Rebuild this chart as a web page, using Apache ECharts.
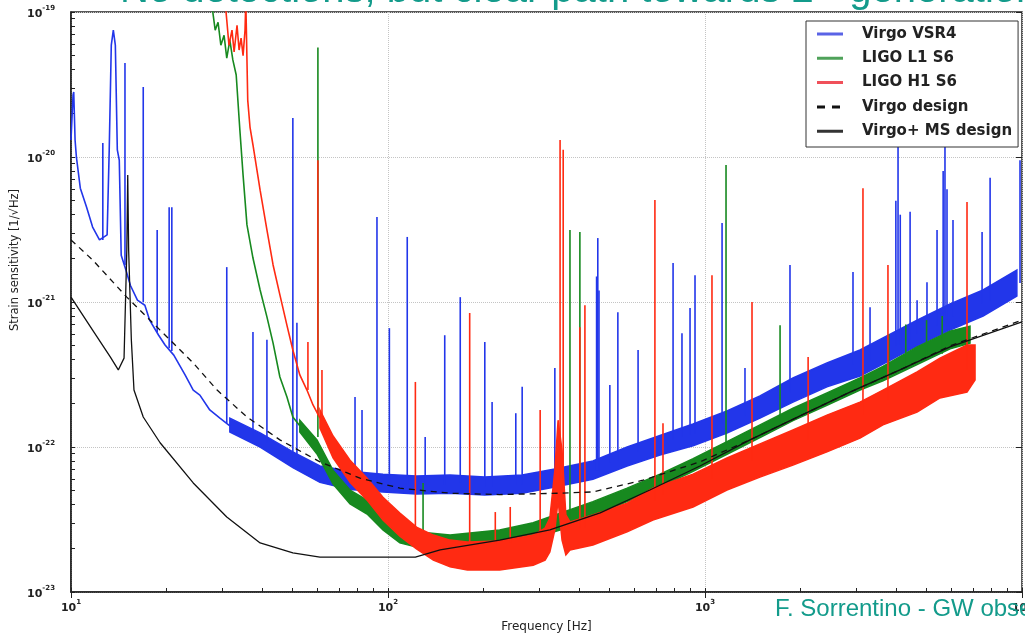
<!DOCTYPE html>
<html>
<head>
<meta charset="utf-8">
<script src="https://cdn.jsdelivr.net/npm/echarts@6/dist/echarts.min.js"></script>
<style>
html,body{margin:0;padding:0;background:#fff;}
#chart{width:1025px;height:633px;}
</style>
</head>
<body>
<div id="chart"></div>
<script>
// names, in legend order
var seriesNames = ['Virgo VSR4', 'LIGO L1 S6', 'LIGO H1 S6', 'Virgo design', 'Virgo+ MS design'];
var xTickValues = [10, 100, 1000, 10000];
var yTickValues = [1e-23, 1e-22, 1e-21, 1e-20, 1e-19];

// ---- Virgo VSR4 (blue) ----
// low frequency trace [Hz, strain]
var virgoLow = [
  [10, 1.31e-20], [10.15, 2.68e-20], [10.2, 2.81e-20], [10.3, 1.31e-20], [10.4, 1.0e-20],
  [10.7, 6.1e-21], [11.2, 4.5e-21], [11.7, 3.29e-21], [12.3, 2.68e-21], [13.0, 2.9e-21],
  [13.2, 1.12e-20], [13.4, 5.9e-20], [13.6, 7.5e-20], [13.8, 5.9e-20], [14.0, 1.12e-20],
  [14.2, 9.5e-21], [14.4, 2.1e-21], [14.9, 1.66e-21], [15.4, 1.3e-21], [16.2, 1.03e-21],
  [17.1, 9.5e-22], [17.7, 7.5e-22], [18.9, 5.9e-22], [19.8, 5.05e-22], [21.1, 4.3e-22],
  [22.9, 3.14e-22], [24.3, 2.47e-22], [25.5, 2.28e-22], [27.4, 1.8e-22], [29.5, 1.58e-22],
  [31.7, 1.4e-22]
];
// noise band [Hz, lower, upper]
var virgoBand = [
  [31.7, 1.27e-22, 1.58e-22], [39.5, 1.0e-22, 1.25e-22], [50.1, 7.2e-23, 9.25e-23],
  [61, 5.7e-23, 7.4e-23], [75.9, 5.1e-23, 6.8e-23], [96.4, 4.9e-23, 6.5e-23],
  [123, 4.75e-23, 6.3e-23], [157, 4.8e-23, 6.4e-23], [202, 4.67e-23, 6.2e-23],
  [265, 4.8e-23, 6.4e-23], [336, 5.3e-23, 7.05e-23], [443, 6.0e-23, 8.0e-23],
  [568, 7.4e-23, 1.0e-22], [721, 8.8e-23, 1.2e-22], [917, 1.02e-22, 1.44e-22],
  [1173, 1.25e-22, 1.77e-22], [1491, 1.58e-22, 2.25e-22], [1895, 2.04e-22, 2.99e-22],
  [2425, 2.6e-22, 3.8e-22], [3083, 3.09e-22, 4.67e-22], [3643, 3.73e-22, 5.65e-22],
  [4667, 4.98e-22, 7.5e-22], [5930, 6.4e-22, 9.7e-22], [7537, 8.0e-22, 1.21e-21],
  [9634, 1.1e-21, 1.66e-21]
];
// lines [Hz, base, peak]
var virgoLines = [
  [12.6, 2.68e-21, 1.25e-20], [14.8, 1.8e-21, 4.45e-20], [16.9, 1.0e-21, 3.04e-20],
  [18.7, 6.2e-22, 3.14e-21], [20.4, 4.8e-22, 4.5e-21], [20.8, 4.6e-22, 4.5e-21],
  [31.0, 1.46e-22, 1.74e-21], [37.5, 1.17e-22, 6.2e-22], [41.5, 1.07e-22, 5.5e-22],
  [50.1, 8.1e-23, 1.86e-20], [51.6, 7.9e-23, 7.2e-22], [78.7, 5.9e-23, 2.21e-22],
  [82.8, 5.9e-23, 1.8e-22], [92.3, 5.65e-23, 3.86e-21], [101, 5.65e-23, 6.6e-22],
  [115, 5.5e-23, 2.81e-21], [131, 5.5e-23, 1.17e-22], [151, 5.5e-23, 5.9e-22],
  [169, 5.65e-23, 1.08e-21], [202, 5.3e-23, 5.3e-22], [213, 5.3e-23, 2.04e-22],
  [253, 5.5e-23, 1.71e-22], [265, 5.5e-23, 2.6e-22], [336, 6.2e-23, 3.5e-22],
  [455, 6.9e-23, 1.5e-21], [459, 6.9e-23, 2.76e-21], [463, 6.9e-23, 1.2e-21],
  [501, 7.8e-23, 2.68e-22], [531, 8.1e-23, 8.5e-22], [615, 9.25e-23, 4.67e-22],
  [793, 1.12e-22, 1.86e-21], [846, 1.17e-22, 6.1e-22], [897, 1.21e-22, 9.1e-22],
  [930, 1.24e-22, 1.53e-21], [1132, 1.46e-22, 3.51e-21], [1337, 1.64e-22, 3.5e-22],
  [1854, 2.39e-22, 1.8e-21], [2930, 3.7e-22, 1.61e-21], [3316, 4.0e-22, 9.2e-22],
  [4000, 5.0e-22, 5.0e-21], [4064, 5.05e-22, 1.42e-20], [4130, 5.1e-22, 4.0e-21],
  [4436, 5.5e-22, 4.2e-21], [4667, 6.1e-22, 1.03e-21], [5015, 6.4e-22, 1.37e-21],
  [5395, 6.9e-22, 3.14e-21], [5640, 7.4e-22, 8.0e-21], [5715, 7.5e-22, 2.68e-20],
  [5800, 7.6e-22, 6.0e-21], [6058, 7.9e-22, 3.68e-21], [7483, 9.8e-22, 3.04e-21],
  [7932, 1.03e-21, 7.2e-21], [9856, 1.35e-21, 9.5e-21]
];

// ---- LIGO L1 S6 (green) ----
var ligoL1Low = [
  [27.7, 1.2e-19], [28.5, 7.5e-20], [29.1, 8.5e-20], [29.7, 5.9e-20], [30.4, 6.9e-20],
  [31.0, 4.8e-20], [31.7, 6.4e-20], [32.4, 4.67e-20], [33.2, 3.68e-20], [34.1, 1.53e-20],
  [34.9, 7.5e-21], [35.9, 3.4e-21], [37.5, 2.01e-21], [39.5, 1.21e-21], [41.5, 7.9e-22],
  [43.4, 5.2e-22], [45.6, 3.04e-22], [48.0, 2.21e-22], [50.1, 1.61e-22], [52.7, 1.4e-22]
];
var ligoL1Band = [
  [52.7, 1.27e-22, 1.53e-22], [59.7, 8.95e-23, 1.12e-22], [67.1, 5.56e-23, 6.9e-23],
  [75.9, 4.05e-23, 5.05e-23], [85.9, 3.45e-23, 4.3e-23], [96.4, 2.68e-23, 3.34e-23],
  [109, 2.18e-23, 2.76e-23], [123, 2.04e-23, 2.6e-23], [157, 1.95e-23, 2.47e-23],
  [225, 2.11e-23, 2.68e-23], [287, 2.36e-23, 3.0e-23], [349, 2.68e-23, 3.5e-23],
  [443, 3.3e-23, 4.2e-23], [568, 4.2e-23, 5.2e-23], [721, 5.3e-23, 6.5e-23],
  [917, 6.8e-23, 8.3e-23], [1173, 8.9e-23, 1.09e-22], [1491, 1.16e-22, 1.42e-22],
  [1895, 1.52e-22, 1.85e-22], [2425, 1.94e-22, 2.36e-22], [3083, 2.47e-22, 3.0e-22],
  [3643, 2.86e-22, 3.6e-22], [4667, 3.7e-22, 4.9e-22], [5930, 4.75e-22, 6.3e-22],
  [6855, 5.2e-22, 6.8e-22]
];
var ligoL1Lines = [
  [60.1, 1.17e-22, 5.7e-20], [129, 2.4e-23, 5.65e-23], [375, 3.14e-23, 3.14e-21],
  [403, 3.3e-23, 3.04e-21], [1165, 1.03e-22, 8.8e-21], [1725, 1.42e-22, 6.9e-22],
  [3800, 3.0e-22, 6.0e-22], [4300, 3.4e-22, 7.0e-22], [5000, 4.0e-22, 7.5e-22],
  [5600, 4.4e-22, 8.0e-22]
];

// ---- LIGO H1 S6 (red) ----
var ligoH1Low = [
  [30.6, 1.2e-19], [31.0, 8.8e-20], [31.5, 5.9e-20], [32.2, 7.5e-20], [32.7, 5.3e-20],
  [33.4, 8.1e-20], [33.9, 5.47e-20], [34.4, 6.6e-20], [34.9, 5.0e-20], [35.4, 7.5e-20],
  [35.6, 1.2e-19], [35.9, 1.2e-19], [36.1, 2.47e-20], [36.7, 1.61e-20], [37.5, 1.21e-20],
  [39.5, 5.9e-21], [41.5, 3.14e-21], [43.4, 1.8e-21], [45.6, 1.12e-21], [48.0, 6.9e-22],
  [50.1, 4.67e-22], [52.7, 3.14e-22], [55.5, 2.47e-22], [58.0, 1.95e-22], [61.0, 1.58e-22]
];
var ligoH1Band = [
  [61, 1.35e-22, 1.8e-22], [67.1, 8.4e-23, 1.19e-22], [75.9, 5.7e-23, 8.1e-23],
  [85.9, 4.3e-23, 6.1e-23], [96.4, 3.14e-23, 4.5e-23], [109, 2.43e-23, 3.5e-23],
  [123, 1.98e-23, 2.8e-23], [139, 1.66e-23, 2.47e-23], [157, 1.49e-23, 2.28e-23],
  [178, 1.42e-23, 2.21e-23], [225, 1.42e-23, 2.25e-23], [287, 1.53e-23, 2.47e-23],
  [313, 1.66e-23, 2.76e-23], [324, 1.89e-23, 3.24e-23], [336, 2.68e-23, 6.9e-23],
  [344, 4.3e-23, 1.53e-22], [354, 2.28e-23, 9.5e-23], [364, 1.8e-23, 3.4e-23],
  [375, 1.95e-23, 3.04e-23], [443, 2.11e-23, 3.4e-23], [568, 2.6e-23, 4.1e-23],
  [685, 3.14e-23, 5.2e-23], [917, 3.86e-23, 6.5e-23], [1173, 5.05e-23, 8.4e-23],
  [1491, 6.2e-23, 1.05e-22], [1895, 7.5e-23, 1.31e-22], [2425, 9.25e-23, 1.66e-22],
  [3083, 1.15e-22, 2.04e-22], [3643, 1.42e-22, 2.47e-22], [4667, 1.74e-22, 3.29e-22],
  [5512, 2.18e-22, 4.1e-22], [6707, 2.39e-22, 5.05e-22], [7110, 2.9e-22, 5.05e-22]
];
var ligoH1Lines = [
  [55.9, 2.47e-22, 5.3e-22], [60.1, 1.66e-22, 9.5e-21], [61.9, 1.53e-22, 3.4e-22],
  [122, 2.68e-23, 2.81e-22], [181, 2.21e-23, 8.4e-22], [218, 2.11e-23, 3.56e-23],
  [243, 2.18e-23, 3.86e-23], [302, 2.4e-23, 1.8e-22], [349, 5.9e-23, 1.31e-20],
  [357, 5.05e-23, 1.12e-20], [403, 2.76e-23, 6.7e-22], [418, 2.76e-23, 9.5e-22],
  [695, 4.3e-23, 5.05e-21], [737, 4.67e-23, 1.46e-22], [1052, 6.1e-23, 1.53e-21],
  [1407, 8.1e-23, 1.0e-21], [2115, 1.12e-22, 4.18e-22], [3150, 1.66e-22, 6.1e-21],
  [3777, 2.11e-22, 1.8e-21], [6707, 3.4e-22, 4.9e-21]
];

// ---- design curves ----
var virgoDesign = [
  [10, 2.68e-21], [11.7, 1.95e-21], [15.0, 1.08e-21], [19.1, 6.4e-22], [24.3, 3.8e-22],
  [28.9, 2.47e-22], [35.9, 1.61e-22], [45.6, 1.12e-22], [61, 7.9e-23], [81.6, 6.1e-23],
  [109, 5.2e-23], [157, 4.8e-23], [225, 4.7e-23], [349, 4.8e-23], [443, 4.9e-23],
  [637, 5.9e-23], [964, 7.9e-23], [1387, 1.12e-22], [1995, 1.64e-22], [2866, 2.39e-22],
  [4121, 3.4e-22], [5930, 4.98e-22], [10000, 7.5e-22]
];
var virgoPlusMS = [
  [10, 1.08e-21], [11.7, 6.4e-22], [13.3, 4.18e-22], [14.1, 3.4e-22], [14.7, 4.1e-22],
  [15.0, 2.28e-21], [15.1, 7.5e-21], [15.2, 2.28e-21], [15.5, 5.5e-22], [15.8, 2.47e-22],
  [16.9, 1.61e-22], [19.1, 1.07e-22], [24.3, 5.65e-23], [31.0, 3.29e-23], [39.5, 2.18e-23],
  [50.1, 1.86e-23], [61, 1.74e-23], [101, 1.74e-23], [122, 1.74e-23], [146, 1.95e-23],
  [225, 2.28e-23], [324, 2.68e-23], [467, 3.51e-23], [670, 5.05e-23], [964, 7.4e-23],
  [1387, 1.12e-22], [1995, 1.64e-22], [2866, 2.39e-22], [4121, 3.4e-22], [5930, 4.9e-22],
  [10000, 7.3e-22]
];

var colBlue = '#2236ea', colGreen = '#17891f', colRed = '#ff2a12', teal = '#139b8b';
var ink = '#222';

// tick marks every 1..9 x decade (matplotlib style log ticks)
function logTicks(lo, hi) {
  var out = [];
  for (var d = lo; d < hi * 1.0001; d *= 10) {
    for (var m = 1; m < 10; m++) { if (d * m <= hi * 1.0001) out.push(d * m); }
  }
  return out;
}
var xAllTicks = logTicks(xTickValues[0], xTickValues[xTickValues.length - 1]);
var yAllTicks = logTicks(yTickValues[0], yTickValues[yTickValues.length - 1]);

function powLabel(v) {
  return '{b|10}{s|' + Math.round(Math.log10(v)) + '}';
}
var powRich = {
  b: { fontFamily: 'DejaVu Sans', fontSize: 11, fontWeight: 'bold', color: ink, lineHeight: 15, verticalAlign: 'bottom' },
  s: { fontFamily: 'DejaVu Sans', fontSize: 7, fontWeight: 'bold', color: ink, lineHeight: 9, verticalAlign: 'top' }
};

function lineSeries(name, data, color, width, dash) {
  return {
    name: name, type: 'line', data: data, symbol: 'none', clip: true, silent: true,
    lineStyle: { color: color, width: width, type: dash ? [6, 5] : 'solid' },
    itemStyle: { color: color }
  };
}
function bandSeries(name, band, color) {
  return {
    name: name, type: 'custom', silent: true, clip: true,
    data: [[band[0][0], band[0][2]]],
    renderItem: function (params, api) {
      var up = band.map(function (r) { return api.coord([r[0], r[2]]); });
      var lo = band.map(function (r) { return api.coord([r[0], r[1]]); }).reverse();
      return { type: 'polygon', shape: { points: up.concat(lo) },
        style: { fill: color, stroke: color, lineWidth: 1.5 } };
    }
  };
}
function spikeSeries(name, lines, color) {
  return {
    name: name, type: 'custom', silent: true, clip: true,
    data: lines, encode: { x: 0, y: [1, 2] },
    renderItem: function (params, api) {
      var a = api.coord([api.value(0), api.value(1)]);
      var b = api.coord([api.value(0), api.value(2)]);
      return { type: 'line', shape: { x1: a[0], y1: a[1], x2: b[0], y2: b[1] },
        style: { stroke: color, lineWidth: 1.6 } };
    }
  };
}
// top / right frame axes: major ticks + dotted grid
function frameAxis(pos, lo, hi, ticks) {
  return {
    type: 'log', logBase: 10, position: pos, min: lo, max: hi,
    axisLine: { show: false },
    axisTick: { inside: true, length: 6, customValues: ticks, lineStyle: { color: ink } },
    axisLabel: { show: false },
    splitLine: { show: true, lineStyle: { color: '#c4c4c4', type: 'dotted' } }
  };
}

var chart = echarts.init(document.getElementById('chart'));

var option = {
  animation: false,
  backgroundColor: '#fff',
  grid: { left: 71, right: 3, top: 12, bottom: 41, outerBoundsMode: 'none',
    show: true, borderColor: ink, borderWidth: 1.5 },
  xAxis: [{
    type: 'log', logBase: 10, min: xTickValues[0], max: xTickValues[xTickValues.length - 1],
    name: 'Frequency [Hz]', nameLocation: 'middle', nameGap: 29,
    nameTextStyle: { fontFamily: 'DejaVu Sans', fontSize: 12, color: ink },
    axisLine: { lineStyle: { color: ink, width: 1.5 } },
    axisTick: { inside: true, length: 4, customValues: xAllTicks, lineStyle: { color: ink } },
    axisLabel: { margin: 7, formatter: powLabel, rich: powRich, customValues: xTickValues },
    splitLine: { show: false }
  }, frameAxis('top', xTickValues[0], xTickValues[xTickValues.length - 1], xTickValues)],
  yAxis: [{
    type: 'log', logBase: 10, min: yTickValues[0], max: yTickValues[yTickValues.length - 1],
    axisLine: { lineStyle: { color: ink, width: 1.5 } },
    axisTick: { inside: true, length: 4, customValues: yAllTicks, lineStyle: { color: ink } },
    axisLabel: { margin: 16, formatter: powLabel, rich: powRich, customValues: yTickValues },
    splitLine: { show: false }
  }, frameAxis('right', yTickValues[0], yTickValues[yTickValues.length - 1], yTickValues)],
  legend: {
    orient: 'vertical', left: 806, top: 21, itemGap: 9.3, itemWidth: 40, itemHeight: 3,
    padding: [5.5, 6, 8.3, 11], backgroundColor: '#fff', borderColor: '#333', borderWidth: 1,
    textStyle: { fontFamily: 'DejaVu Sans', fontSize: 15, fontWeight: 'bold', color: ink },
    selectedMode: false,
    data: [
      { name: seriesNames[0], icon: 'path://M0,0H26V3H0Z M40,3H40.01V2.99H40Z', itemStyle: { color: '#5a63e6' } },
      { name: seriesNames[1], icon: 'path://M0,0H26V3H0Z M40,3H40.01V2.99H40Z', itemStyle: { color: '#4fa25a' } },
      { name: seriesNames[2], icon: 'path://M0,0H26V3H0Z M40,3H40.01V2.99H40Z', itemStyle: { color: '#f0505a' } },
      { name: seriesNames[3], icon: 'path://M0,0H8V3H0Z M15,0H23V3H15Z M40,3H40.01V2.99H40Z', itemStyle: { color: '#111' } },
      { name: seriesNames[4], icon: 'path://M0,0H26V3H0Z M40,3H40.01V2.99H40Z', itemStyle: { color: '#333' } }
    ]
  },
  graphic: [
    { type: 'text', left: 120, top: -29, z: 100, silent: true,
      style: { text: 'No detections, but clear path towards 2{s|nd} generation', fill: teal,
        font: '40px "Liberation Sans"', rich: { s: { fontSize: 22, fill: teal, verticalAlign: 'top', fontFamily: 'Liberation Sans' } } } },
    { type: 'text', left: 775, top: 597, z: 100, silent: true,
      style: { text: 'F. Sorrentino - GW observatories', fill: teal,
        font: '24px "Liberation Sans"' } },
    { type: 'text', x: 15, y: 260, rotation: Math.PI / 2, z: 100, silent: true,
      style: { text: 'Strain sensitivity [1/\u221aHz]', fill: ink, align: 'center', verticalAlign: 'middle',
        font: '11.5px "DejaVu Sans"' } }
  ],
  series: [
    lineSeries(seriesNames[0], virgoLow, colBlue, 1.6),
    bandSeries(seriesNames[0], virgoBand, colBlue),
    spikeSeries(seriesNames[0], virgoLines, colBlue),
    lineSeries(seriesNames[1], ligoL1Low, colGreen, 1.6),
    bandSeries(seriesNames[1], ligoL1Band, colGreen),
    spikeSeries(seriesNames[1], ligoL1Lines, colGreen),
    lineSeries(seriesNames[2], ligoH1Low, colRed, 1.6),
    bandSeries(seriesNames[2], ligoH1Band, colRed),
    spikeSeries(seriesNames[2], ligoH1Lines, colRed),
    lineSeries(seriesNames[3], virgoDesign, '#111', 1.3, true),
    lineSeries(seriesNames[4], virgoPlusMS, '#111', 1.3)
  ]
};
chart.setOption(option);
</script>
</body>
</html>
